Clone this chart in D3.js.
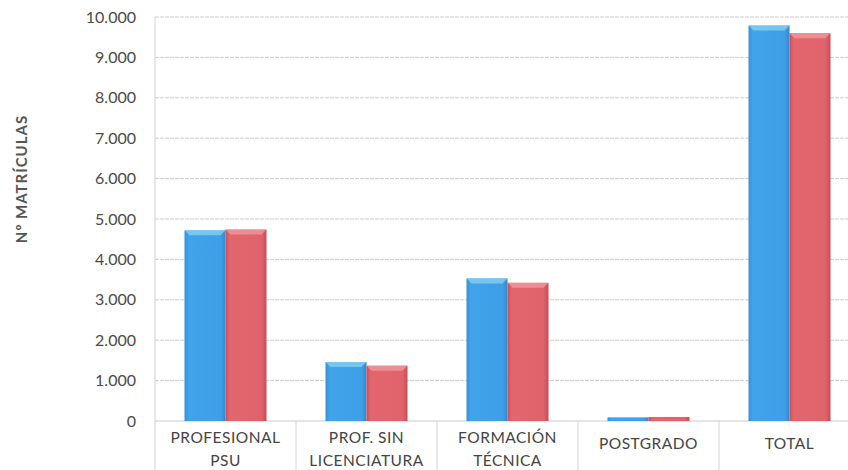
<!DOCTYPE html>
<html>
<head>
<meta charset="utf-8">
<script src="https://cdn.jsdelivr.net/npm/d3@7"></script>
<style>
  body { margin: 0; background: #fff; }
  svg { display: block; font-family: Lato, "Open Sans", sans-serif; }
</style>
</head>
<body>
<svg id="chart" width="848" height="470"></svg>
<script>
// Categories (two lines per label)
const categories = ["PROFESIONAL PSU", "PROF. SIN LICENCIATURA", "FORMACIÓN TÉCNICA", "POSTGRADO", "TOTAL"];
const labelLines = [["PROFESIONAL", "PSU"], ["PROF. SIN", "LICENCIATURA"], ["FORMACIÓN", "TÉCNICA"], ["POSTGRADO"], ["TOTAL"]];
// Two series (blue, red)
const seriesA = [4720, 1460, 3530, 90, 9790];
const seriesB = [4740, 1370, 3420, 100, 9600];
const yTicks = [0, 1000, 2000, 3000, 4000, 5000, 6000, 7000, 8000, 9000, 10000];

const width = 848, height = 470;
const margin = { top: 17, left: 155, bottom: 49 };
const plotRight = 860; // the chart runs past the right edge of the picture

const svg = d3.select("#chart");

const x = d3.scaleBand()
            .domain(categories)
            .range([margin.left, plotRight]);
const xInner = d3.scaleBand()
            .domain(["a", "b"])
            .range([0, 82]);
const y = d3.scaleLinear()
            .domain([0, 10000])
            .range([height - margin.bottom, margin.top]);

// gradients for the bevelled bars
const defs = svg.append("defs");
const makeGrad = (id, stops) => {
   const g = defs.append("linearGradient").attr("id", id)
                 .attr("x1", 0).attr("x2", 1).attr("y1", 0).attr("y2", 0);
   stops.forEach(s => g.append("stop").attr("offset", s[0]).attr("stop-color", s[1]));
};
makeGrad("gBlue", [[0, "#3391da"], [0.1, "#41a3ea"], [0.88, "#3e9fe6"], [1, "#3089d0"]]);
makeGrad("gRed", [[0, "#cf4d58"], [0.1, "#e3666f"], [0.88, "#e0636c"], [1, "#cb4a55"]]);

// gridlines
svg.append("g")
   .selectAll("line")
   .data(yTicks.slice(1))
   .enter()
   .append("line")
   .attr("x1", margin.left).attr("x2", width)
   .attr("y1", d => y(d)).attr("y2", d => y(d))
   .attr("stroke", "#cdcdcd")
   .attr("stroke-width", 1)
   .attr("stroke-dasharray", "4,1");

// y axis
const yAxis = d3.axisLeft(y)
                .tickValues(yTicks)
                .tickSize(0)
                .tickPadding(19)
                .tickFormat(d => d3.format(",")(d).replace(/,/g, "."));
const yg = svg.append("g")
              .attr("transform", `translate(${margin.left},0)`)
              .call(yAxis);
yg.select(".domain").remove();
yg.selectAll("text")
  .attr("font-size", 16)
  .attr("fill", "#4a4a4a")
  .attr("font-family", "Lato, sans-serif");

// left axis line, baseline and category separators
svg.append("line")
   .attr("x1", margin.left).attr("x2", margin.left)
   .attr("y1", margin.top).attr("y2", height)
   .attr("stroke", "#d0d0d0");
svg.append("line")
   .attr("x1", margin.left).attr("x2", width)
   .attr("y1", y(0)).attr("y2", y(0))
   .attr("stroke", "#cacaca");
svg.append("g")
   .selectAll("line")
   .data(categories.slice(1))
   .enter()
   .append("line")
   .attr("x1", d => x(d)).attr("x2", d => x(d))
   .attr("y1", y(0)).attr("y2", height)
   .attr("stroke", "#d4d4d4");

// bars
const bars = [];
categories.forEach((c, i) => {
   bars.push({ cat: c, key: "a", value: seriesA[i] });
   bars.push({ cat: c, key: "b", value: seriesB[i] });
});
const groupOffset = (x.bandwidth() - 82) / 2;

const barG = svg.append("g")
                .selectAll("g")
                .data(bars)
                .enter()
                .append("g")
                .attr("transform", d => `translate(${x(d.cat) + groupOffset + xInner(d.key)},0)`);

barG.append("rect")
    .attr("x", 0)
    .attr("y", d => y(d.value))
    .attr("width", xInner.bandwidth())
    .attr("height", d => y(0) - y(d.value))
    .attr("fill", d => d.key === "a" ? "url(#gBlue)" : "url(#gRed)");

// soft bevel on top of each bar
barG.filter(d => y(0) - y(d.value) > 10)
    .append("path")
    .attr("d", d => {
       const t = y(d.value), w = xInner.bandwidth();
       return `M0,${t} L${w},${t} L${w - 5},${t + 5} L5,${t + 5} Z`;
    })
    .attr("fill", d => d.key === "a" ? "#8fd6f2" : "#f2a0a4")
    .attr("opacity", 0.7);

// category labels
const lab = svg.append("g")
               .selectAll("text")
               .data(categories)
               .enter()
               .append("text")
               .attr("text-anchor", "middle")
               .attr("font-size", 15.5)
               .attr("fill", "#444")
               .attr("letter-spacing", 0.5)
               .attr("transform", d => `translate(${x(d) + x.bandwidth() / 2},0)`);
lab.each(function (d, i) {
   const lines = labelLines[i];
   const sel = d3.select(this);
   const startY = lines.length === 2 ? 443 : 449;
   lines.forEach((t, j) => {
      sel.append("tspan").attr("x", 0).attr("y", startY + j * 23).text(t);
   });
});

// y axis title
svg.append("text")
   .attr("transform", "translate(27,179) rotate(-90)")
   .attr("text-anchor", "middle")
   .attr("font-size", 15)
   .attr("font-weight", "bold")
   .attr("fill", "#555")
   .attr("letter-spacing", 1)
   .text("Nº MATRÍCULAS");
</script>
</body>
</html>
